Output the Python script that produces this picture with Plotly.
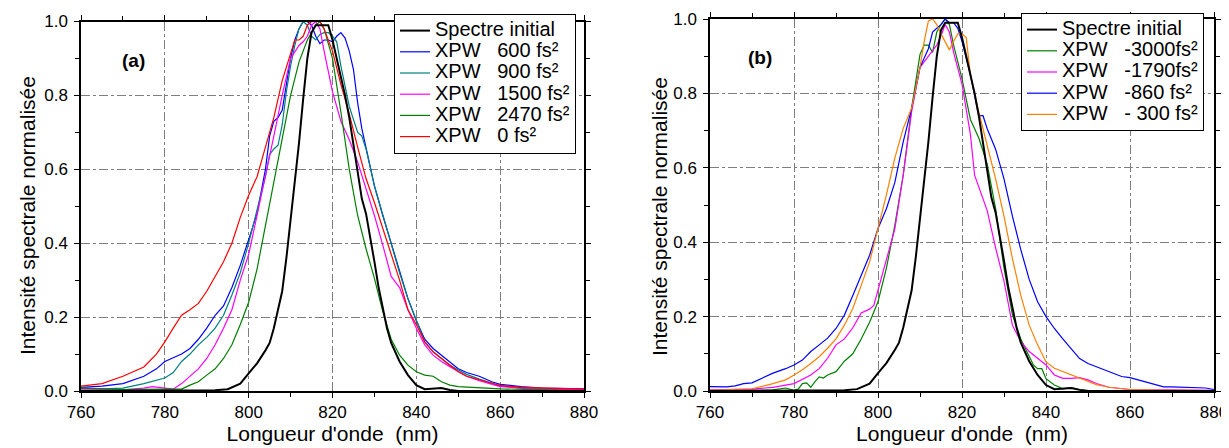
import plotly.graph_objects as go

# spectre initial (same on both panels)
wl_init = [760, 770, 780, 788, 792, 795, 798, 800, 802, 804, 805, 806, 807, 808, 809, 810, 811, 812, 813, 814,
           815, 816, 817, 818, 819, 820, 821, 822, 823, 824, 825, 826, 827, 828, 829, 830, 831, 832, 833, 834,
           836, 838, 840, 842, 844, 846, 848, 850, 860, 880]
int_init = [0.0, 0.0, 0.0, 0.0, 0.002, 0.005, 0.02, 0.048, 0.075, 0.11, 0.13, 0.17, 0.22, 0.27, 0.36, 0.46, 0.56,
            0.67, 0.79, 0.9, 0.97, 0.99, 0.99, 0.99, 0.99, 0.95, 0.9, 0.85, 0.8, 0.74, 0.67, 0.6, 0.52, 0.48, 0.42,
            0.35, 0.28, 0.22, 0.17, 0.13, 0.08, 0.043, 0.016, 0.005, 0.007, 0.008, 0.003, 0.0, 0.0, 0.0]

# panel (a)
wl_a0 = [760, 765, 770, 775, 778, 780, 782, 784, 786, 788, 790, 792, 794, 796, 798, 800, 802, 804, 806, 808,
         810, 811, 812, 813, 814, 815, 816, 817, 818, 820, 822, 824, 826, 828, 830, 832, 834, 836, 838, 840,
         842, 844, 846, 848, 850, 852, 855, 858, 860, 865, 870, 880]
int_a0 = [0.013, 0.02, 0.04, 0.065, 0.1, 0.133, 0.17, 0.205, 0.22, 0.237, 0.27, 0.31, 0.35, 0.40, 0.47, 0.53,
          0.58, 0.66, 0.74, 0.84, 0.91, 0.95, 0.95, 0.96, 0.99, 1.0, 1.0, 1.0, 0.98, 0.92, 0.83, 0.75, 0.66, 0.575,
          0.51, 0.44, 0.37, 0.3, 0.22, 0.18, 0.133, 0.106, 0.088, 0.07, 0.052, 0.04, 0.03, 0.02, 0.015, 0.01,
          0.008, 0.005]

wl_a600 = [760, 765, 770, 775, 778, 780, 782, 784, 786, 788, 790, 792, 794, 796, 798, 800, 802, 804, 805, 806,
           807, 808, 809, 810, 811, 812, 813, 814, 815, 816, 817, 818, 819, 820, 821, 822, 823, 824, 825, 826,
           827, 828, 830, 832, 834, 836, 838, 840, 842, 844, 846, 848, 850, 852, 855, 858, 860, 865, 870, 880]
int_a600 = [0.01, 0.013, 0.02, 0.04, 0.06, 0.08, 0.09, 0.1, 0.115, 0.14, 0.17, 0.205, 0.23, 0.28, 0.34, 0.41,
            0.48, 0.6, 0.69, 0.73, 0.74, 0.76, 0.83, 0.9, 0.95, 0.98, 1.0, 1.0, 0.99, 0.96, 0.94, 0.95, 0.95, 0.945,
            0.96, 0.97, 0.955, 0.92, 0.87, 0.78, 0.71, 0.66, 0.555, 0.475, 0.4, 0.32, 0.25, 0.19, 0.14, 0.115,
            0.097, 0.08, 0.06, 0.05, 0.04, 0.025, 0.018, 0.012, 0.008, 0.006]

wl_a900 = [760, 765, 770, 775, 780, 782, 784, 786, 788, 790, 792, 794, 796, 798, 800, 802, 804, 805, 806, 807,
           808, 809, 810, 811, 812, 813, 814, 815, 816, 817, 818, 819, 820, 821, 822, 824, 826, 827, 828, 830,
           832, 834, 836, 838, 840, 842, 844, 846, 848, 850, 852, 855, 858, 860, 865, 870, 880]
int_a900 = [0.008, 0.006, 0.008, 0.02, 0.035, 0.05, 0.08, 0.1, 0.125, 0.145, 0.17, 0.205, 0.26, 0.32, 0.4, 0.49,
            0.58, 0.64, 0.655, 0.665, 0.72, 0.81, 0.88, 0.935, 0.98, 1.0, 0.99, 0.96, 0.95, 0.965, 0.97, 0.97, 0.96,
            0.945, 0.88, 0.77, 0.7, 0.69, 0.655, 0.555, 0.475, 0.4, 0.32, 0.25, 0.19, 0.133, 0.106, 0.088, 0.07,
            0.057, 0.045, 0.032, 0.02, 0.014, 0.008, 0.005, 0.003]

wl_a1500 = [760, 770, 775, 777, 780, 782, 784, 786, 788, 790, 792, 794, 796, 798, 800, 802, 804, 806, 808, 810,
            812, 813, 814, 815, 816, 817, 818, 820, 822, 824, 826, 828, 830, 832, 834, 836, 838, 840, 842, 844,
            846, 848, 850, 852, 855, 858, 860, 865, 870, 880]
int_a1500 = [0.003, 0.003, 0.008, 0.012, 0.008, 0.005, 0.02, 0.04, 0.06, 0.088, 0.125, 0.17, 0.22, 0.3, 0.37,
             0.475, 0.58, 0.69, 0.8, 0.9, 0.935, 0.945, 0.96, 0.99, 1.0, 0.98, 0.92, 0.81, 0.73, 0.68, 0.62, 0.55,
             0.475, 0.395, 0.31, 0.28, 0.22, 0.17, 0.125, 0.097, 0.08, 0.066, 0.052, 0.04, 0.028, 0.018, 0.012,
             0.008, 0.005, 0.004]

wl_a2470 = [760, 770, 780, 784, 786, 788, 790, 792, 794, 796, 798, 800, 802, 804, 806, 808, 810, 812, 814, 816,
            817, 818, 820, 822, 824, 826, 828, 830, 832, 834, 836, 838, 840, 842, 844, 846, 848, 850, 855, 860,
            870, 880]
int_a2470 = [0.008, 0.004, 0.005, 0.005, 0.016, 0.025, 0.043, 0.06, 0.088, 0.125, 0.18, 0.24, 0.33, 0.45, 0.57,
             0.68, 0.8, 0.89, 0.95, 0.99, 1.0, 0.98, 0.9, 0.755, 0.6, 0.475, 0.385, 0.305, 0.215, 0.14, 0.097,
             0.07, 0.052, 0.043, 0.04, 0.025, 0.016, 0.012, 0.008, 0.006, 0.003, 0.0]

# panel (b)
wl_b3000 = [760, 770, 775, 778, 780, 781, 782, 783, 784, 785, 786, 787, 788, 790, 792, 794, 796, 798, 800, 802,
            804, 806, 808, 810, 811, 812, 813, 814, 815, 816, 817, 818, 820, 822, 824, 826, 828, 830, 832, 834,
            836, 837, 838, 839, 840, 842, 844, 846, 848, 850, 860, 880]
int_b3000 = [0.0, 0.002, 0.003, 0.008, 0.002, 0.005, 0.02, 0.022, 0.01, 0.025, 0.038, 0.035, 0.043, 0.052, 0.08,
             0.1, 0.14, 0.185, 0.24, 0.33, 0.445, 0.58, 0.76, 0.905, 0.93, 0.93, 0.91, 0.965, 0.985, 1.0, 0.985,
             0.93, 0.84, 0.73, 0.68, 0.61, 0.49, 0.33, 0.205, 0.14, 0.096, 0.07, 0.06, 0.06, 0.033, 0.016, 0.006,
             0.009, 0.004, 0.001, 0.0, 0.0]

wl_b1790 = [760, 770, 775, 780, 784, 786, 788, 790, 792, 794, 796, 798, 799, 800, 802, 804, 806, 808, 810, 812,
            814, 815, 816, 817, 818, 820, 822, 823, 824, 826, 828, 830, 832, 834, 836, 838, 840, 842, 844, 846,
            848, 850, 852, 855, 858, 860, 870, 880]
int_b1790 = [0.003, 0.005, 0.01, 0.02, 0.043, 0.06, 0.088, 0.124, 0.14, 0.17, 0.21, 0.22, 0.23, 0.27, 0.355,
             0.435, 0.58, 0.75, 0.87, 0.9, 0.93, 0.955, 0.985, 0.965, 0.91, 0.825, 0.69, 0.58, 0.55, 0.485, 0.385,
             0.295, 0.177, 0.133, 0.106, 0.088, 0.07, 0.043, 0.034, 0.034, 0.036, 0.03, 0.02, 0.01, 0.006, 0.004,
             0.003, 0.002]

wl_b860 = [760, 764, 766, 768, 770, 772, 775, 778, 780, 782, 784, 786, 788, 790, 792, 794, 796, 798, 800, 802,
           804, 806, 808, 810, 812, 813, 814, 815, 816, 817, 818, 819, 820, 822, 823, 824, 825, 826, 828, 830,
           832, 834, 836, 838, 840, 842, 844, 846, 848, 850, 852, 855, 858, 860, 862, 865, 868, 870, 875, 878,
           880]
int_b860 = [0.012, 0.011, 0.014, 0.02, 0.022, 0.033, 0.048, 0.06, 0.07, 0.083, 0.106, 0.124, 0.142, 0.168, 0.204,
            0.257, 0.311, 0.365, 0.437, 0.49, 0.56, 0.67, 0.76, 0.87, 0.92, 0.965, 0.975, 0.985, 1.0, 0.99, 0.99,
            0.975, 0.94, 0.85, 0.795, 0.74, 0.74, 0.705, 0.65, 0.57, 0.47, 0.38, 0.3, 0.24, 0.2, 0.168, 0.14,
            0.114, 0.087, 0.074, 0.065, 0.052, 0.039, 0.036, 0.03, 0.02, 0.011, 0.011, 0.01, 0.008, 0.004]

wl_b300 = [760, 765, 770, 775, 778, 780, 782, 784, 786, 788, 790, 792, 794, 796, 798, 800, 802, 804, 806, 808,
           810, 811, 812, 813, 814, 815, 816, 817, 818, 819, 820, 821, 822, 824, 826, 828, 830, 832, 834, 836,
           838, 840, 842, 844, 846, 848, 850, 852, 855, 858, 860, 870, 880]
int_b300 = [0.002, 0.003, 0.006, 0.02, 0.03, 0.043, 0.057, 0.074, 0.092, 0.115, 0.14, 0.177, 0.222, 0.284, 0.347,
            0.437, 0.527, 0.626, 0.706, 0.76, 0.87, 0.94, 0.995, 1.0, 0.985, 0.96, 0.94, 0.917, 0.94, 0.96, 0.96,
            0.95, 0.85, 0.75, 0.66, 0.57, 0.47, 0.356, 0.257, 0.177, 0.124, 0.078, 0.061, 0.052, 0.043, 0.034,
            0.026, 0.017, 0.01, 0.006, 0.004, 0.002, 0.001]

NB = '\u00a0'
labels_a = ['XPW' + NB * 3 + '600 fs²', 'XPW' + NB * 3 + '900 fs²', 'XPW' + NB * 3 + '1500 fs²',
            'XPW' + NB * 3 + '2470 fs²', 'XPW' + NB * 3 + '0 fs²']
labels_b = ['XPW' + NB * 3 + '-3000fs²', 'XPW' + NB * 3 + '-1790fs²', 'XPW' + NB * 3 + '-860 fs²',
            'XPW' + NB * 3 + '-' + NB + '300 fs²']


def big(s):
    # legend text drawn larger than the row spacing plotly derives from legend font size
    return '<span style="font-size:20px">' + s + '</span>'


series_a = [(wl_a600, int_a600, '#0000ff'), (wl_a900, int_a900, '#008080'), (wl_a1500, int_a1500, '#ff00ff'),
            (wl_a2470, int_a2470, '#007f00'), (wl_a0, int_a0, '#ff0000')]
series_b = [(wl_b3000, int_b3000, '#008000'), (wl_b1790, int_b1790, '#ff00ff'), (wl_b860, int_b860, '#0000ff'),
            (wl_b300, int_b300, '#ff8000')]

fig = go.Figure()

for i, (x, y, c) in enumerate(series_a):
    fig.add_trace(go.Scatter(x=x, y=y, mode='lines', name=big(labels_a[i]), line=dict(color=c, width=1.2),
                             xaxis='x', yaxis='y', legend='legend', legendrank=i + 2))
fig.add_trace(go.Scatter(x=wl_init, y=int_init, mode='lines', name=big('Spectre initial'),
                         line=dict(color='black', width=2), xaxis='x', yaxis='y', legend='legend', legendrank=1))

for i, (x, y, c) in enumerate(series_b):
    fig.add_trace(go.Scatter(x=x, y=y, mode='lines', name=big(labels_b[i]), line=dict(color=c, width=1.2),
                             xaxis='x2', yaxis='y2', legend='legend2', legendrank=i + 2))
fig.add_trace(go.Scatter(x=wl_init, y=int_init, mode='lines', name=big('Spectre initial'),
                         line=dict(color='black', width=2), xaxis='x2', yaxis='y2', legend='legend2', legendrank=1))

W, H = 1229, 448
font = 'Liberation Sans, Arial, sans-serif'

xcommon = dict(range=[760, 880], dtick=20, tick0=760, ticks='outside', ticklen=5, tickwidth=1.2,
               tickcolor='black', showline=True, linecolor='black', linewidth=1.5, mirror='allticks',
               showgrid=True, gridcolor='#7f7f7f', griddash='dashdot', gridwidth=1, zeroline=False,
               tickfont=dict(size=17, color='black'), automargin=False,
               minor=dict(dtick=10, ticks='outside', ticklen=4, tickcolor='black', showgrid=False),
               title=dict(text="Longueur d'onde  (nm)", font=dict(size=21, color='black'), standoff=5))
ycommon = dict(range=[0, 1.0], dtick=0.2, tickformat='.1f', ticks='outside', ticklen=5, tickwidth=1.2,
               tickcolor='black', showline=True, linecolor='black', linewidth=1.5, mirror='allticks',
               showgrid=True, gridcolor='#7f7f7f', griddash='dashdot', gridwidth=1, zeroline=False,
               tickfont=dict(size=17, color='black'), automargin=False, ticklabelstandoff=3,
               minor=dict(dtick=0.1, ticks='outside', ticklen=4, tickcolor='black', showgrid=False))

legend_common = dict(bgcolor='white', bordercolor='black', borderwidth=1, font=dict(size=14, color='black'),
                     xanchor='right', yanchor='top', tracegroupgap=0, itemwidth=30)

ytitle = 'Intensité spectrale normalisée'

fig.update_layout(
    width=W, height=H,
    margin=dict(l=0, r=0, t=0, b=0),
    paper_bgcolor='white', plot_bgcolor='white',
    font=dict(family=font, color='black'),
    xaxis=dict(domain=[73 / W, 576 / W], anchor='y', **xcommon),
    yaxis=dict(domain=[1 - 383 / H, 1 - 13.5 / H], anchor='x', **ycommon),
    xaxis2=dict(domain=[702 / W, 1206 / W], anchor='y2', **xcommon),
    yaxis2=dict(domain=[1 - 383 / H, 1 - 11 / H], anchor='x2', **ycommon),
    legend=dict(x=568 / W, y=1 - 6 / H, **legend_common),
    legend2=dict(x=1196 / W, y=1 - 5 / H, **legend_common),
    showlegend=True,
    annotations=[
        dict(text='<b>(a)</b>', x=125 / W, y=1 - 53 / H, xref='paper', yref='paper', showarrow=False,
             xanchor='center', yanchor='middle', font=dict(size=19, color='black')),
        dict(text='<b>(b)</b>', x=752 / W, y=1 - 49 / H, xref='paper', yref='paper', showarrow=False,
             xanchor='center', yanchor='middle', font=dict(size=19, color='black')),
        dict(text=ytitle, textangle=-90, x=19 / W, y=1 - 208 / H, xref='paper', yref='paper',
             xanchor='center', yanchor='middle', showarrow=False, font=dict(size=21, color='black')),
        dict(text=ytitle, textangle=-90, x=651 / W, y=1 - 208 / H, xref='paper', yref='paper',
             xanchor='center', yanchor='middle', showarrow=False, font=dict(size=21, color='black')),
    ],
)

fig.write_html('out.html')
